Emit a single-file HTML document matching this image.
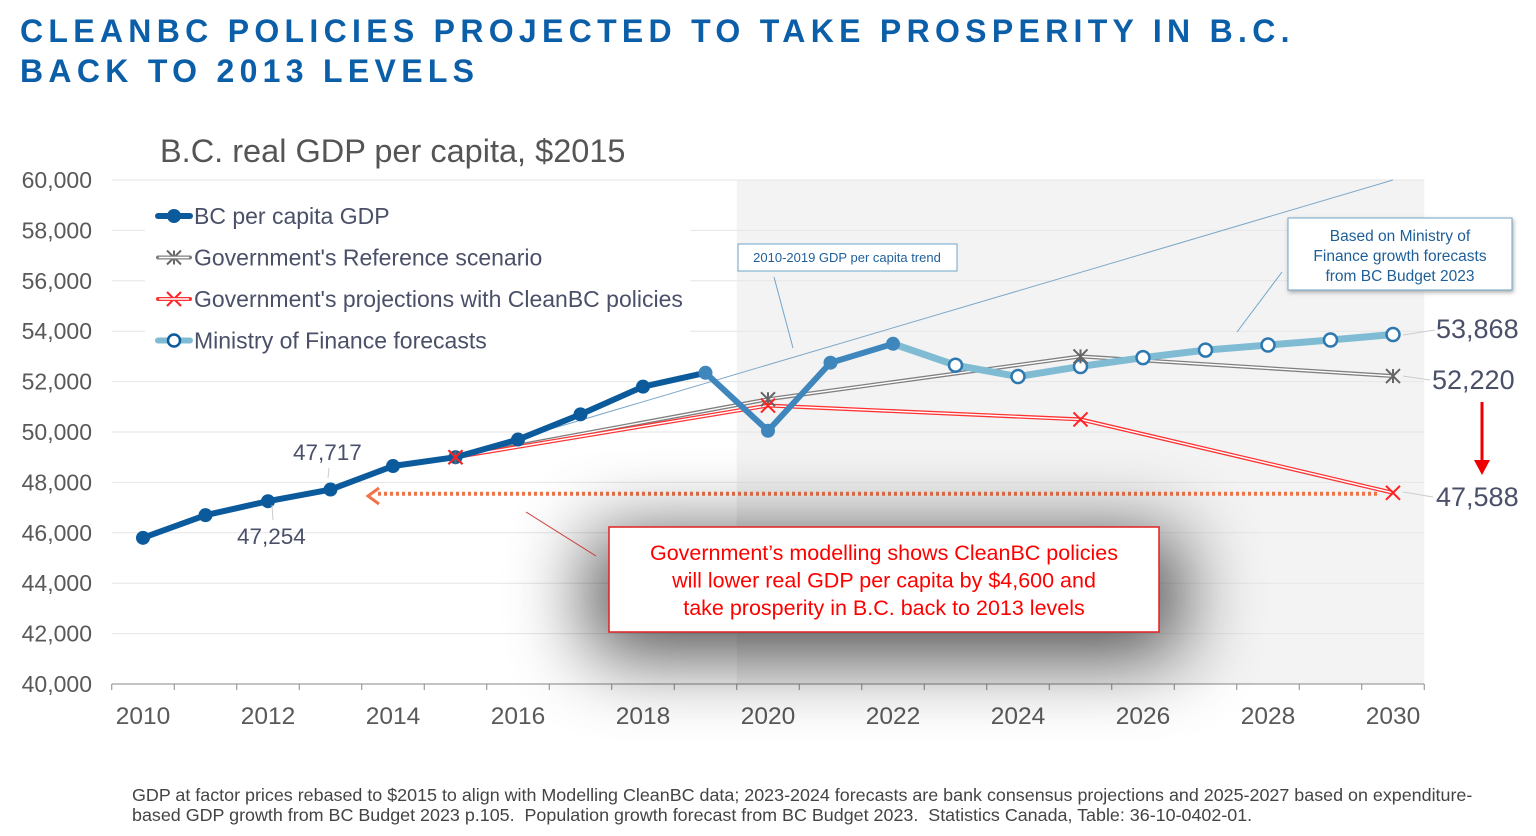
<!DOCTYPE html>
<html><head><meta charset="utf-8"><style>
body{margin:0;background:#fff;font-family:"Liberation Sans",sans-serif;}
#wrap{position:relative;width:1536px;height:836px;overflow:hidden;}
h1{position:absolute;left:20px;top:11px;margin:0;font-size:32px;line-height:40px;color:#0b5ea8;letter-spacing:5.3px;font-weight:bold;}
.foot{position:absolute;left:132px;top:785px;font-size:17.9px;line-height:20px;color:#444;white-space:nowrap;}
</style></head><body><div id="wrap">
<h1>CLEANBC POLICIES PROJECTED TO TAKE PROSPERITY IN B.C.<br>BACK TO 2013 LEVELS</h1>
<svg id="chart" width="1536" height="836" style="position:absolute;left:0;top:0">
<defs><filter id="blur" filterUnits="userSpaceOnUse" x="300" y="300" width="1200" height="536"><feGaussianBlur stdDeviation="40"/></filter></defs>
<g id="bg"></g><g id="grid"></g><g id="series"></g><g id="ann"></g>
</svg>
<div class="foot">GDP at factor prices rebased to $2015 to align with Modelling CleanBC data; 2023-2024 forecasts are bank consensus projections and 2025-2027 based on expenditure-<br>based GDP growth from BC Budget 2023 p.105.&nbsp; Population growth forecast from BC Budget 2023.&nbsp; Statistics Canada, Table: 36-10-0402-01.</div>
</div>
<script>
const bcYears=[2010,2011,2012,2013,2014,2015,2016,2017,2018,2019,2020,2021,2022];
const bcValues=[45800,46700,47254,47717,48650,49000,49700,50700,51800,52350,50050,52750,53500];
const mofYears=[2022,2023,2024,2025,2026,2027,2028,2029,2030];
const mofValues=[53500,52650,52200,52600,52950,53250,53450,53650,53868];
const refYears=[2015,2020,2025,2030];
const refValues=[49000,51300,53000,52220];
const cleanYears=[2015,2020,2025,2030];
const cleanValues=[49000,51050,50500,47588];
const trendYears=[2015,2030];
const trendValues=[49000,60000];
const yTicks=[40000,42000,44000,46000,48000,50000,52000,54000,56000,58000,60000];
const xTickLabels=[2010,2012,2014,2016,2018,2020,2022,2024,2026,2028,2030];
const NS="http://www.w3.org/2000/svg";
const X=y=>143+(y-2010)*62.5;
const Y=v=>684-(v-40000)*0.0252;
function mk(p,t,a,txt){const e=document.createElementNS(NS,t);for(const k in a)e.setAttribute(k,a[k]);if(txt!==undefined)e.textContent=txt;document.getElementById(p).appendChild(e);return e;}
let e=mk('bg','rect',{x:X(2019.5),y:Y(60000),width:X(2030.5)-X(2019.5),height:Y(40000)-Y(60000),fill:'#f3f3f3'});

e=mk('bg','text',{x:160,y:162,'font-size':32.5,fill:'#555'},'B.C. real GDP per capita, $2015');

yTicks.forEach(v=>{
 if(v>40000){e=mk('grid','line',{x1:X(2009.5),x2:X(2030.5),y1:Y(v),y2:Y(v),stroke:'#e6e6e6','stroke-width':1});
 }
 e=mk('grid','text',{x:92,y:Y(v)+8,'font-size':23,fill:'#595959','text-anchor':'end'},v.toLocaleString('en-US'));
 
});
e=mk('grid','line',{x1:X(2009.5),x2:X(2030.5),y1:Y(40000),y2:Y(40000),stroke:'#888'});

for(let y=2009.5;y<=2030.6;y++){e=mk('grid','line',{x1:X(y),x2:X(y),y1:Y(40000),y2:Y(40000)+6,stroke:'#888'});
 }
xTickLabels.forEach(y=>{e=mk('grid','text',{x:X(y),y:724,'font-size':24.5,fill:'#595959','text-anchor':'middle'},y);
 });
e=mk('grid','rect',{x:145,y:192,width:545,height:170,fill:'#fff'});

const pts=(ys,vs)=>ys.map((y,i)=>X(y)+','+Y(vs[i])).join(' ');
e=mk('series','polyline',{points:pts(trendYears,trendValues),fill:'none',stroke:'#7fa9c9','stroke-width':1});

e=mk('series','polyline',{points:pts(refYears,refValues),fill:'none',stroke:'#7f7f7f','stroke-width':4});

e=mk('series','polyline',{points:pts(refYears,refValues),fill:'none',stroke:'#fff','stroke-width':1.4});

e=mk('series','polyline',{points:pts(cleanYears,cleanValues),fill:'none',stroke:'#f33','stroke-width':4});

e=mk('series','polyline',{points:pts(cleanYears,cleanValues),fill:'none',stroke:'#fff','stroke-width':1.4});

e=mk('series','polyline',{points:pts(mofYears,mofValues),fill:'none',stroke:'#7fbcd3','stroke-width':7});

const split=bcYears.indexOf(2019);
e=mk('series','polyline',{points:pts(bcYears.slice(0,split+1),bcValues.slice(0,split+1)),fill:'none',stroke:'#0b5a9c','stroke-width':6,'stroke-linejoin':'round'});

e=mk('series','polyline',{points:pts(bcYears.slice(split),bcValues.slice(split)),fill:'none',stroke:'#3f86bd','stroke-width':6,'stroke-linejoin':'round'});

bcYears.forEach((y,i)=>{e=mk('series','circle',{cx:X(y),cy:Y(bcValues[i]),r:7,fill:y>=2019?'#3f86bd':'#0b5a9c'});
 });
mofYears.slice(1).forEach((y,i)=>{e=mk('series','circle',{cx:X(y),cy:Y(mofValues[i+1]),r:6.5,fill:'#fff',stroke:'#2e78b0','stroke-width':2.5});
 });
function xmark(cx,cy,col,name,star){let g=mk('series','g',{});
 const s=7;[[-s,-s,s,s],[-s,s,s,-s]].concat(star?[[0,-s,0,s]]:[]).forEach(a=>{const l=document.createElementNS(NS,'line');
 l.setAttribute('x1',cx+a[0]);l.setAttribute('y1',cy+a[1]);l.setAttribute('x2',cx+a[2]);l.setAttribute('y2',cy+a[3]);l.setAttribute('stroke',col);l.setAttribute('stroke-width',2);g.appendChild(l);});}
refYears.forEach((y,i)=>xmark(X(y),Y(refValues[i]),'#666','reference-point',true));
cleanYears.forEach((y,i)=>xmark(X(y),Y(cleanValues[i]),'#f22','cleanbc-point',false));
const leg=[['BC per capita GDP','#0b5a9c','dot'],["Government's Reference scenario",'#7f7f7f','star'],["Government's projections with CleanBC policies",'#f33','x'],['Ministry of Finance forecasts','#7fbcd3','o']];
leg.forEach((l,i)=>{const cy=216+i*41.5;
 e=mk('ann','line',{x1:158,x2:190,y1:cy,y2:cy,stroke:l[1],'stroke-width':l[2]=='dot'||l[2]=='o'?6:4,'stroke-linecap':'round'});
 
 if(l[2]=='dot'){e=mk('ann','circle',{cx:174,cy:cy,r:7,fill:l[1]});}
 else if(l[2]=='o'){e=mk('ann','circle',{cx:174,cy:cy,r:6,fill:'#fff',stroke:'#0b5a9c','stroke-width':2.5});}
 else {e=mk('ann','line',{x1:159,x2:189,y1:cy,y2:cy,stroke:'#fff','stroke-width':1.4});xmark(174,cy,l[2]=='x'?'#f22':'#666','legend-marker',l[2]=='star');}
 
 e=mk('ann','text',{x:194,y:cy+8,'font-size':23,fill:'#4a5068'},l[0]);
 });
function lab(x,y,t,size,name){e=mk('ann','text',{x:x,y:y,'font-size':size,fill:'#4a5068'},t);}
lab(293,460,'47,717',22.5,'label-2013');lab(237,544,'47,254',22.5,'label-2012');
lab(1436,338,'53,868',27,'label-mof-2030');lab(1432,389,'52,220',27,'label-ref-2030');lab(1436,506,'47,588',27,'label-cleanbc-2030');
[[1403,335,1435,330],[1403,376,1430,380],[1403,492,1433,497],[328,478,329,468],[272,505,273,520]].forEach(a=>{e=mk('ann','line',{x1:a[0],y1:a[1],x2:a[2],y2:a[3],stroke:'#ccc'});});
e=mk('ann','line',{x1:1482,y1:402,x2:1482,y2:462,stroke:'#e00','stroke-width':3});
e=mk('ann','polygon',{points:'1474,460 1490,460 1482,475',fill:'#e00'});
e=mk('ann','line',{x1:378,y1:Y(47588)+1,x2:1380,y2:Y(47588)+1,stroke:'#f0744a','stroke-width':4,'stroke-dasharray':'3 3'});
e=mk('ann','polyline',{points:'379,488 368,496 379,504',fill:'none',stroke:'#f0744a','stroke-width':3});
e=mk('ann','rect',{x:590,y:535,width:590,height:120,fill:'#000',opacity:0.7,filter:'url(#blur)'});
e=mk('ann','line',{x1:526,y1:512,x2:596,y2:556,stroke:'#c33'});
e=mk('ann','rect',{x:609,y:527,width:550,height:105,fill:'#fff',stroke:'#e02020','stroke-width':1.5});
['Government\u2019s modelling shows CleanBC policies','will lower real GDP per capita by $4,600 and','take prosperity in B.C. back to 2013 levels'].forEach((t,i)=>{e=mk('ann','text',{x:884,y:560+i*27.5,'font-size':21.5,fill:'#f00','text-anchor':'middle'},t);});
e=mk('ann','line',{x1:774,y1:277,x2:793,y2:348,stroke:'#6fa6c9'});
e=mk('ann','rect',{x:738,y:244,width:219,height:27,fill:'#fff',stroke:'#6fa6c9'});
e=mk('ann','text',{x:847,y:262,'font-size':13,fill:'#1f5f99','text-anchor':'middle'},'2010-2019 GDP per capita trend');
e=mk('ann','line',{x1:1282,y1:272,x2:1237,y2:332,stroke:'#6fa6c9'});
e=mk('ann','rect',{x:1288,y:218,width:224,height:72,fill:'#fff',stroke:'#6fa6c9',style:'filter:drop-shadow(1px 2px 2px #aaa)'});
['Based on Ministry of','Finance growth forecasts','from BC Budget 2023'].forEach((t,i)=>{e=mk('ann','text',{x:1400,y:241+i*20,'font-size':15.5,fill:'#1f5f99','text-anchor':'middle'},t);});
</script>
</body></html>
